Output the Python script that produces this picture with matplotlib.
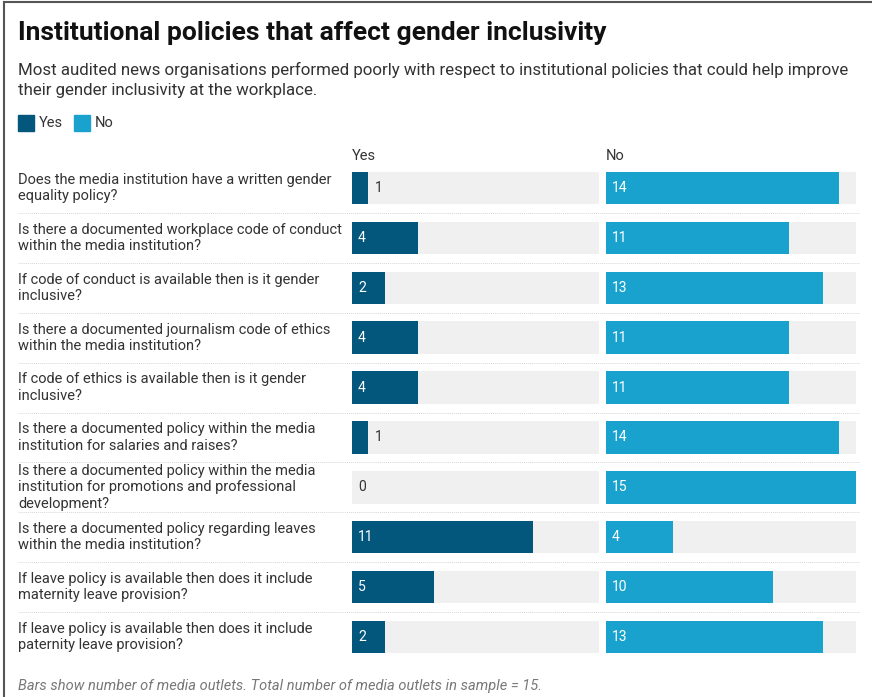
import matplotlib
matplotlib.use("Agg")
import matplotlib.pyplot as plt
from matplotlib.lines import Line2D
from matplotlib.patches import Rectangle

questions = [
    "Does the media institution have a written gender\nequality policy?",
    "Is there a documented workplace code of conduct\nwithin the media institution?",
    "If code of conduct is available then is it gender\ninclusive?",
    "Is there a documented journalism code of ethics\nwithin the media institution?",
    "If code of ethics is available then is it gender\ninclusive?",
    "Is there a documented policy within the media\ninstitution for salaries and raises?",
    "Is there a documented policy within the media\ninstitution for promotions and professional\ndevelopment?",
    "Is there a documented policy regarding leaves\nwithin the media institution?",
    "If leave policy is available then does it include\nmaternity leave provision?",
    "If leave policy is available then does it include\npaternity leave provision?",
]
yes_vals = [1, 4, 2, 4, 4, 1, 0, 11, 5, 2]
no_vals = [14, 11, 13, 11, 11, 14, 15, 4, 10, 13]
series_names = ["Yes", "No"]
total = 15

YES_C = "#03567c"
NO_C = "#1aa2cf"
BG_C = "#f0f0f0"
TXT = "#333333"
FONT = "Roboto"

W, H = 872, 697
fig = plt.figure(figsize=(W / 100, H / 100), dpi=100)
fig.patch.set_facecolor("white")

def fx(px):
    return px / W

def fy(py):
    return 1 - py / H

# border
fig.add_artist(Line2D([fx(4), fx(4)], [0, fy(2)], color="#555555", lw=1.5))
fig.add_artist(Line2D([fx(4), 1], [fy(2), fy(2)], color="#555555", lw=1.5))

fig.text(fx(18), fy(33), "Institutional policies that affect gender inclusivity",
         fontsize=19, fontweight="bold", family=FONT, color="#111111", va="center")
fig.text(fx(18), fy(80),
         "Most audited news organisations performed poorly with respect to institutional policies that could help improve\ntheir gender inclusivity at the workplace.",
         fontsize=12.2, family=FONT, color=TXT, va="center", linespacing=1.38)

# legend
for name, col, x0 in [(series_names[0], YES_C, 18), (series_names[1], NO_C, 74)]:
    fig.add_artist(Rectangle((fx(x0), fy(131)), fx(16), 16 / H, color=col,
                             transform=fig.transFigure))
    fig.text(fx(x0 + 21), fy(123), name, fontsize=10.5, family=FONT, color=TXT, va="center")

top_px, bot_px = 163, 662
nrows = len(questions)
ax_bottom = fy(bot_px)
ax_height = (bot_px - top_px) / H

# frame axes for labels and separators
fr = fig.add_axes([fx(18), ax_bottom, fx(860 - 18), ax_height])
fr.set_xlim(0, 1)
fr.set_ylim(nrows - 0.5, -0.5)
fr.axis("off")
for i in range(nrows - 1):
    fr.axhline(i + 0.5, color="#d6d6d6", lw=0.7, ls=(0, (1, 1)))
for i, q in enumerate(questions):
    fr.text(0, i, q, fontsize=10.5, family=FONT, color=TXT, va="center", ha="left",
            linespacing=1.2)

def panel(left, right, vals, color, header):
    ax = fig.add_axes([fx(left), ax_bottom, fx(right - left), ax_height])
    ax.set_xlim(0, total)
    ax.set_ylim(nrows - 0.5, -0.5)
    ax.axis("off")
    ys = list(range(nrows))
    ax.barh(ys, [total] * nrows, height=0.65, color=BG_C, left=0)
    ax.barh(ys, vals, height=0.65, color=color, left=0)
    px_per_unit = (right - left) / total
    off = 6 / px_per_unit
    for y, v in zip(ys, vals):
        if v >= 2:
            ax.text(off, y, str(v), color="white", fontsize=10, family=FONT, va="center")
        else:
            ax.text(v + off, y, str(v), color=TXT, fontsize=10, family=FONT, va="center")
    fig.text(fx(left), fy(156), header, fontsize=10.5, family=FONT, color=TXT, va="center")

panel(352, 599, yes_vals, YES_C, series_names[0])
panel(606, 856, no_vals, NO_C, series_names[1])

fig.text(fx(18), fy(686),
         "Bars show number of media outlets. Total number of media outlets in sample = 15.",
         fontsize=10.5, family=FONT, style="italic", color="#777777", va="center")

fig.savefig("out.png", dpi=100)
